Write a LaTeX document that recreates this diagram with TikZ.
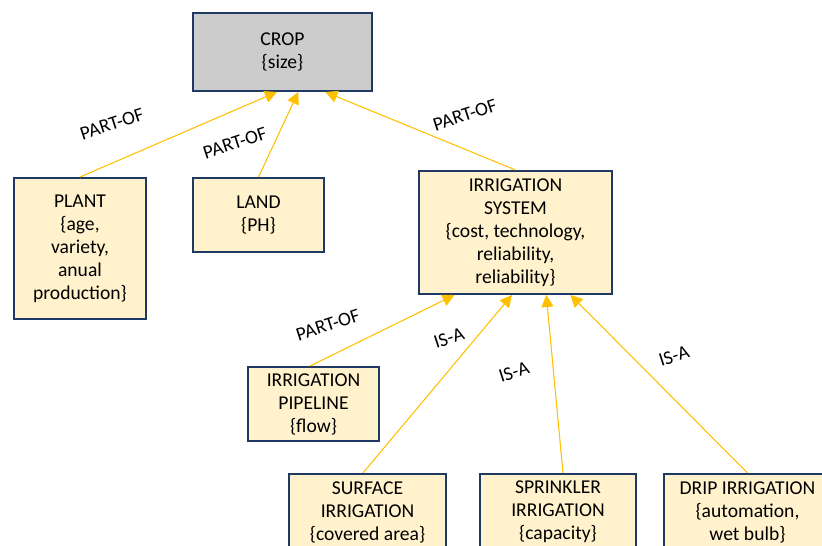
\documentclass[tikz,border=0pt]{standalone}
\usepackage{fontspec}
\setmainfont{Carlito}
\usetikzlibrary{arrows.meta,calc}
\definecolor{boxfill}{HTML}{FFF2CC}
\definecolor{topfill}{HTML}{CCCCCC}
\definecolor{boxline}{HTML}{1F3864}
\definecolor{arrline}{HTML}{FFC000}
\begin{document}
\begin{tikzpicture}[
  x=0.75pt, y=-0.75pt,
  cls/.style={draw=boxline, line width=1.5pt, rectangle, fill=boxfill,
              align=center, font=\fontsize{14.7}{17.25}\selectfont, inner sep=2pt},
  top/.style={cls, fill=topfill},
  rel/.style={draw=arrline, line width=0.8pt, -{Triangle[length=9pt,width=9pt]}},
  lbl/.style={font=\fontsize{14.5}{17}\selectfont, rotate=18}
]
\useasboundingbox (0,0) rectangle (822,546);
\node[top, minimum width=134.25pt, minimum height=58.5pt] (crop) at (282.5, 52)  {CROP\\\{size\}};
\node[cls, minimum width=99pt,     minimum height=105.75pt] (plant) at (80, 248.5) {PLANT\\\{age,\\variety,\\anual\\production\}};
\node[cls, minimum width=98.25pt,  minimum height=55.5pt] (land) at (258.5, 215) {LAND\\\{PH\}};
\node[cls, minimum width=144.75pt, minimum height=92.25pt] (irr)  at (515.5, 232.5) {IRRIGATION\\SYSTEM\\\{cost, technology,\\reliability,\\reliability\}};
\node[cls, minimum width=98.25pt,  minimum height=55.5pt] (pipe) at (313.5, 404) {IRRIGATION\\PIPELINE\\\{flow\}};
\node[cls, minimum width=117.75pt, minimum height=57pt] (surf) at (367.5, 512) {SURFACE\\IRRIGATION\\\{covered area\}};
\node[cls, minimum width=117pt,    minimum height=57pt] (sprk) at (558, 512) {SPRINKLER\\IRRIGATION\\\{capacity\}};
\node[cls, minimum width=125.25pt, minimum height=57pt] (drip) at (747.5, 512) {DRIP IRRIGATION\\\{automation,\\wet bulb\}};
% relations to CROP
\draw[rel] (plant.north) -- ($(crop.south west)!0.469!(crop.south east)$);
\draw[rel] (land.north)  -- ($(crop.south west)!0.587!(crop.south east)$);
\draw[rel] (irr.north)   -- ($(crop.south west)!0.737!(crop.south east)$);
% relations to IRRIGATION SYSTEM
\draw[rel] ([xshift=-2.6pt]pipe.north) -- ($(irr.south west)!0.187!(irr.south east)$);
\draw[rel] ([xshift=-3.4pt]surf.north) -- ($(irr.south west)!0.482!(irr.south east)$);
\draw[rel] ([xshift=3.75pt]sprk.north) -- ($(irr.south west)!0.658!(irr.south east)$);
\draw[rel] (drip.north)  -- ($(irr.south west)!0.782!(irr.south east)$);
% labels
\node[lbl] (l1) at (112, 124) {PART-OF};
\node[lbl] (l2) at (235, 143) {PART-OF};
\node[lbl] (l3) at (465, 115) {PART-OF};
\node[lbl] (l4) at (328, 325) {PART-OF};
\node[lbl] (l5) at (449, 338) {IS-A};
\node[lbl] (l6) at (514, 372) {IS-A};
\node[lbl] (l7) at (674, 356) {IS-A};
\end{tikzpicture}
\end{document}
